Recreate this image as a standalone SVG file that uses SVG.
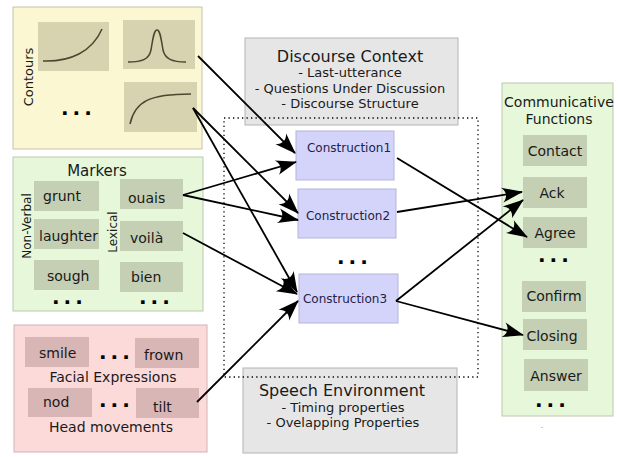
<svg xmlns="http://www.w3.org/2000/svg" width="618" height="457" viewBox="0 0 618 457">
<defs>
<style>
text{font-family:"DejaVu Sans","Liberation Sans",sans-serif;fill:#1a1a1a}
.lbl{font-size:14px}
.sm{font-size:13px;text-anchor:middle}
.ttl{font-size:16px;text-anchor:middle}
.dots{font-size:20px;font-weight:bold;letter-spacing:4px;fill:#000}
.cons{fill:#d4d4fb;stroke:#b4b4dc;stroke-width:1}
.ctext{font-size:12px;fill:#22224a;text-anchor:middle}
.yel{fill:#fbf7d2;stroke:#c4c4b0}
.ybox{fill:#d7d3b0}
.grn{fill:#e6f8d9;stroke:#bcc8b0}
.gbox{fill:#c4cfb3}
.pnk{fill:#fcdada;stroke:#d0b4b4}
.pbox{fill:#d8b6b6}
.gray{fill:#e6e6e6;stroke:#b4b4b4}
.curve{fill:none;stroke:#4a4630;stroke-width:1.5}
.conn{stroke:#000;stroke-width:1.8;fill:none;marker-end:url(#ah)}
</style>
<marker id="ah" markerUnits="userSpaceOnUse" orient="auto" refX="0" refY="0" viewBox="-21 -9 22 18" markerWidth="22" markerHeight="18">
<path d="M1,0 L-20,-7.5 C-15,-2.5 -15,2.5 -20,7.5 Z" fill="#000"/>
</marker>
</defs>
<rect width="618" height="457" fill="#fff"/>

<g id="contours">
<rect class="yel" x="13" y="7" width="189" height="142"/>
<text font-size="13" text-anchor="middle" transform="translate(33,77) rotate(-90)">Contours</text>
<rect class="ybox" x="38" y="22" width="71" height="49"/>
<path class="curve" d="M43,61 C70,62 92,52 102,29"/>
<rect class="ybox" x="123" y="20" width="72" height="49"/>
<path class="curve" d="M128,62 C143,62 149,59 151,50 C153,38 154,30 157,30 C160,30 161,38 163,50 C165,59 172,62 186,62"/>
<rect class="ybox" x="124" y="82" width="73" height="50"/>
<path class="curve" d="M130,124 C135,101 150,94 191,94"/>
<text class="dots" x="61" y="115">...</text>
</g>

<g id="markers">
<rect class="grn" x="13" y="157" width="190" height="154"/>
<text x="97" y="176" font-size="15" text-anchor="middle">Markers</text>
<text font-size="12" text-anchor="middle" transform="translate(31,226) rotate(-90)">Non-Verbal</text>
<text font-size="12" text-anchor="middle" transform="translate(117,232) rotate(-90)">Lexical</text>
<rect class="gbox" x="34" y="181" width="65" height="30"/>
<text class="lbl" x="43" y="201">grunt</text>
<rect class="gbox" x="120" y="179" width="63" height="30"/>
<text class="lbl" x="128" y="203">ouais</text>
<rect class="gbox" x="34" y="219" width="65" height="30"/>
<text class="lbl" x="39" y="241">laughter</text>
<rect class="gbox" x="120" y="221" width="63" height="30"/>
<text class="lbl" x="130" y="243">voilà</text>
<rect class="gbox" x="34" y="260" width="65" height="30"/>
<text class="lbl" x="47" y="281">sough</text>
<rect class="gbox" x="120" y="262" width="63" height="30"/>
<text class="lbl" x="131" y="282">bien</text>
<text class="dots" x="52" y="304">...</text>
<text class="dots" x="139" y="304">...</text>
</g>

<g id="gestures">
<rect class="pnk" x="14" y="325" width="193" height="127"/>
<rect class="pbox" x="25" y="337" width="64" height="30"/>
<text class="lbl" x="39" y="358">smile</text>
<text class="dots" x="99" y="359">...</text>
<rect class="pbox" x="135" y="338" width="64" height="30"/>
<text class="lbl" x="144" y="360">frown</text>
<text class="lbl" x="113" y="382" text-anchor="middle">Facial Expressions</text>
<rect class="pbox" x="28" y="388" width="64" height="29"/>
<text class="lbl" x="43" y="407">nod</text>
<text class="dots" x="99" y="407">...</text>
<rect class="pbox" x="136" y="388" width="63" height="30"/>
<text class="lbl" x="153" y="412">tilt</text>
<text class="lbl" x="111" y="432" text-anchor="middle">Head movements</text>
</g>

<g id="discourse-context">
<rect class="gray" x="245" y="38" width="213" height="87"/>
<text class="ttl" x="350" y="62">Discourse Context</text>
<text class="sm" x="350" y="77">- Last-utterance</text>
<text class="sm" x="350" y="93">- Questions Under Discussion</text>
<text class="sm" x="350" y="108">- Discourse Structure</text>
</g>

<g id="speech-environment">
<rect class="gray" x="243" y="368" width="214" height="85"/>
<text class="ttl" x="342" y="396">Speech Environment</text>
<text class="sm" x="343" y="412">- Timing properties</text>
<text class="sm" x="343" y="427">- Ovelapping Properties</text>
</g>

<g id="scope">
<rect x="224" y="118" width="254" height="259" fill="none" stroke="#000" stroke-width="1.3" stroke-dasharray="1.3,3.2"/>
</g>

<g id="construction1">
<rect class="cons" x="296" y="131" width="98" height="49"/>
<text class="ctext" x="349" y="152">Construction1</text>
</g>
<g id="construction2">
<rect class="cons" x="298" y="189" width="98" height="49"/>
<text class="ctext" x="348" y="220">Construction2</text>
</g>
<text class="dots" x="337" y="264">...</text>
<g id="construction3">
<rect class="cons" x="299" y="274" width="99" height="49"/>
<text class="ctext" x="345" y="303">Construction3</text>
</g>

<g id="functions">
<rect class="grn" x="502" y="83" width="111" height="333"/>
<text x="559" y="107" font-size="14" text-anchor="middle">Communicative</text>
<text x="559" y="124" font-size="14" text-anchor="middle">Functions</text>
<rect class="gbox" x="523" y="135" width="64" height="31"/>
<text class="lbl" x="555" y="156" text-anchor="middle">Contact</text>
<rect class="gbox" x="523" y="177" width="64" height="31"/>
<text class="lbl" x="552" y="198" text-anchor="middle">Ack</text>
<rect class="gbox" x="523" y="217" width="64" height="31"/>
<text class="lbl" x="555" y="238" text-anchor="middle">Agree</text>
<text class="dots" x="538" y="262">...</text>
<rect class="gbox" x="522" y="281" width="64" height="31"/>
<text class="lbl" x="554" y="301" text-anchor="middle">Confirm</text>
<rect class="gbox" x="523" y="319" width="64" height="31"/>
<text class="lbl" x="552" y="341" text-anchor="middle">Closing</text>
<rect class="gbox" x="524" y="359" width="64" height="32"/>
<text class="lbl" x="556" y="381" text-anchor="middle">Answer</text>
<text class="dots" x="535" y="407">...</text>
</g>
<text x="541" y="428" font-size="6" fill="#444">.</text>

<g id="connectors">
<path class="conn" d="M198,56 L295,153"/>
<path class="conn" d="M193,108 L298,213"/>
<path class="conn" d="M193,108 L297,292"/>
<path class="conn" d="M183,195 L296,162"/>
<path class="conn" d="M183,195 L298,220"/>
<path class="conn" d="M183,233 L297,294"/>
<path class="conn" d="M197,402 L298,301"/>
<path class="conn" d="M397,158 L527,237"/>
<path class="conn" d="M397,212 L522,192"/>
<path class="conn" d="M396,301 L523,200"/>
<path class="conn" d="M396,301 L523,335"/>
</g>
</svg>
